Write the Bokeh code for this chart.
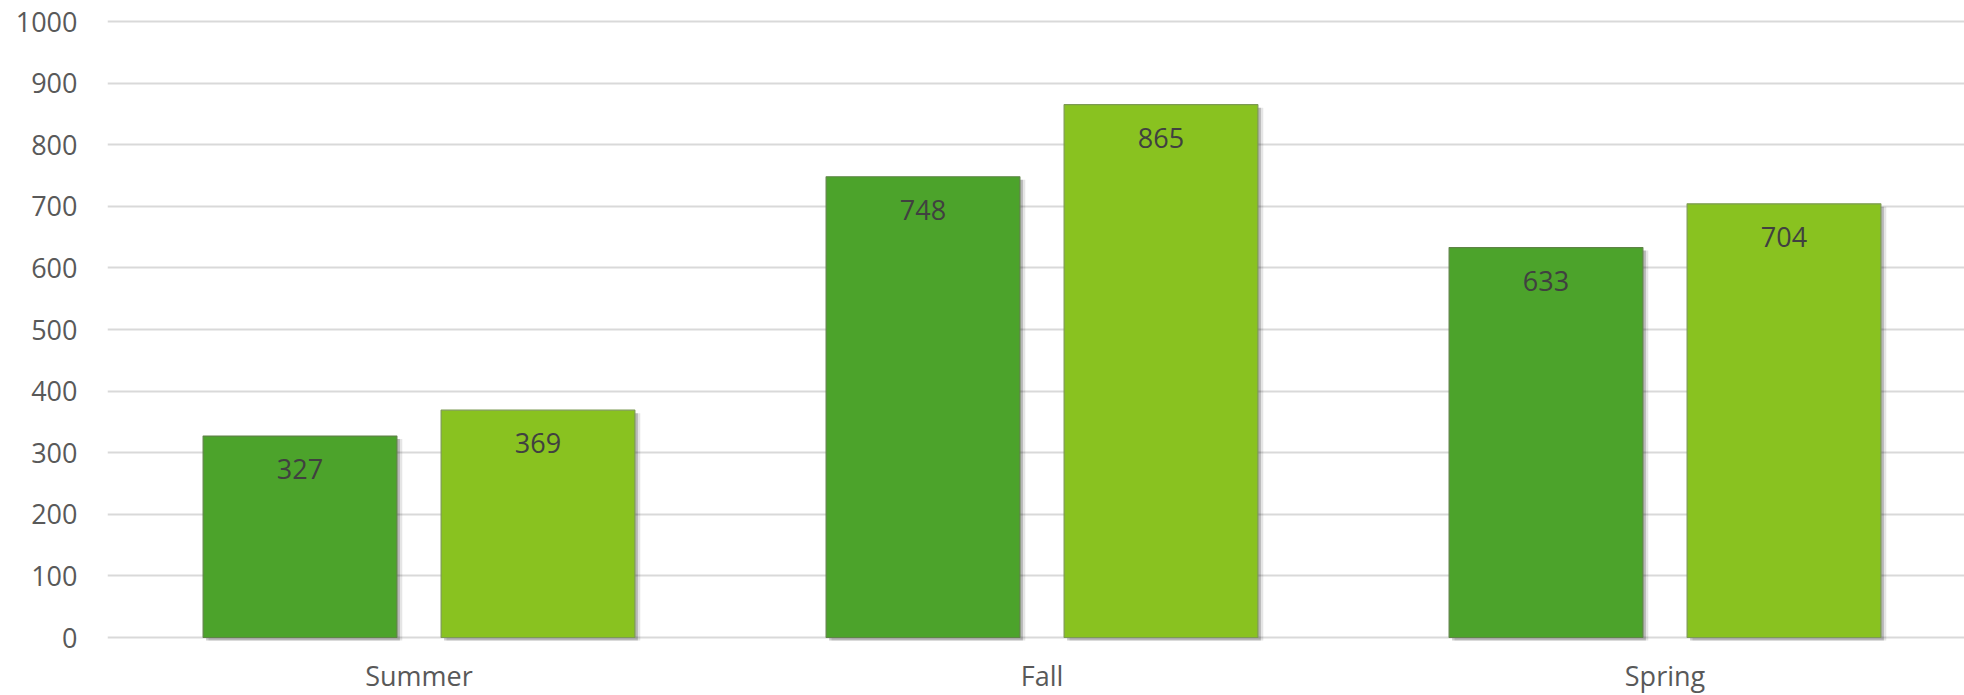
from bokeh.plotting import figure
from bokeh.models import ColumnDataSource, Range1d, FixedTicker
from bokeh.transform import dodge
from bokeh.core.properties import value
from bokeh.embed import file_html
from bokeh.resources import INLINE

# ---- data ----
categories = ["Summer", "Fall", "Spring"]
series_a = [327, 748, 633]
series_b = [369, 865, 704]
y_ticks = [0, 100, 200, 300, 400, 500, 600, 700, 800, 900, 1000]

# ---- layout constants ----
W, H = 1964, 695
LEFT = 107           # frame left (figure px)
SLOT_PX = 623        # px per category
K = 0.616            # px per y unit
ZERO_PX = 637        # y=0 position from figure top
FONT = "Open Sans"
FS = "27px"

x_start = -0.5
x_end = x_start + (W - LEFT) / SLOT_PX
y_end = ZERO_PX / K
y_start = -(H - ZERO_PX) / K

idx = list(range(len(categories)))
src = ColumnDataSource(dict(
    x=idx,
    cat=categories,
    a=series_a,
    b=series_b,
    a_txt=[str(v) for v in series_a],
    b_txt=[str(v) for v in series_b],
    a_lab=[v - 33 / K for v in series_a],
    b_lab=[v - 33 / K for v in series_b],
    cat_y=[-38 / K] * len(categories),
    sh_bottom=[-3 / K] * len(categories),
    a_sh=[v - 3 / K for v in series_a],
    b_sh=[v - 3 / K for v in series_b],
))

p = figure(width=W, height=H, output_backend="svg", toolbar_location=None,
           x_range=Range1d(x_start, x_end), y_range=Range1d(y_start, y_end),
           min_border=0, min_border_left=LEFT, min_border_right=0,
           min_border_top=0, min_border_bottom=0)
p.outline_line_color = None
p.background_fill_color = "white"
p.border_fill_color = "white"

BW = 0.311
OFF = 0.191
DX = 3 / SLOT_PX

# shadows
for dxs, alpha in [(DX, 0.2), (DX * 1.8, 0.1)]:
    p.vbar(x=dodge("x", -OFF + dxs, range=p.x_range), top="a_sh", bottom="sh_bottom",
           width=BW, source=src, fill_color="black", fill_alpha=alpha, line_color=None)
    p.vbar(x=dodge("x", OFF + dxs, range=p.x_range), top="b_sh", bottom="sh_bottom",
           width=BW, source=src, fill_color="black", fill_alpha=alpha, line_color=None)

p.vbar(x=dodge("x", -OFF, range=p.x_range), top="a", bottom=0, width=BW, source=src,
       fill_color="#4ca32b", line_color="#5e8446", line_width=1.2)
p.vbar(x=dodge("x", OFF, range=p.x_range), top="b", bottom=0, width=BW, source=src,
       fill_color="#89c220", line_color="#7d9a52", line_width=1.2)

# value labels
p.text(x=dodge("x", -OFF, range=p.x_range), y="a_lab", text="a_txt", source=src,
       text_font=value(FONT), text_font_size=FS, text_color="#404040",
       text_align="center", text_baseline="middle")
p.text(x=dodge("x", OFF, range=p.x_range), y="b_lab", text="b_txt", source=src,
       text_font=value(FONT), text_font_size=FS, text_color="#404040",
       text_align="center", text_baseline="middle")

# category labels
p.text(x="x", y="cat_y", text="cat", source=src,
       text_font=value(FONT), text_font_size=FS, text_color="#595959",
       text_align="center", text_baseline="middle")

# axes / grid
p.xaxis.visible = False
p.xgrid.visible = False
p.ygrid.ticker = FixedTicker(ticks=y_ticks)
p.ygrid.grid_line_color = "#d9d9d9"
p.ygrid.grid_line_width = 2
p.yaxis.ticker = FixedTicker(ticks=y_ticks)
p.yaxis.axis_line_color = None
p.yaxis.major_tick_line_color = None
p.yaxis.minor_tick_line_color = None
p.yaxis.major_tick_out = 0
p.yaxis.major_tick_in = 0
p.yaxis.major_label_standoff = 30
p.yaxis.major_label_text_font = FONT
p.yaxis.major_label_text_font_size = FS
p.yaxis.major_label_text_color = "#595959"

p.ygrid.level = "underlay"

open("out.html", "w").write(file_html(p, INLINE))
